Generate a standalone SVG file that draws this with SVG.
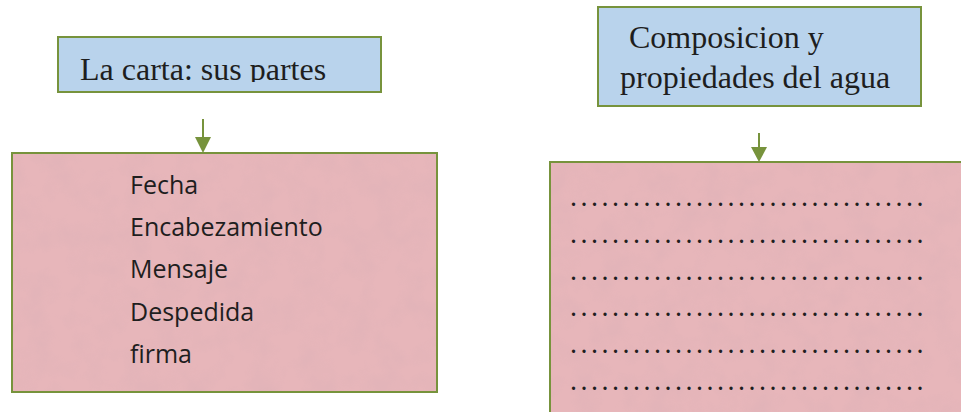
<svg xmlns="http://www.w3.org/2000/svg" width="961" height="412" viewBox="0 0 961 412">
<style>
.title{fill:#b9d3ec;stroke:#77933c;stroke-width:2}
.body{fill:#e7b6ba;stroke:#77933c;stroke-width:2}
.tt{font-family:"Liberation Serif","Times New Roman",serif;font-size:32px;fill:#1e1e1e}
.it{font-family:"Open Sans","Noto Sans",sans-serif;font-size:25px;fill:#1e1e1e}
.dots{font-family:"Liberation Serif",serif;font-size:20px;font-weight:bold;fill:#1e1e1e;letter-spacing:5.5px}
.conn line{stroke:#77933c;stroke-width:2}
.conn polygon{fill:#77933c}
</style>
<defs>
<filter id="tex" x="0" y="0" width="100%" height="100%">
<feTurbulence type="fractalNoise" baseFrequency="0.04" numOctaves="3" seed="4" result="n"/>
<feColorMatrix in="n" type="matrix" values="0 0 0 0 0.6  0 0 0 0 0.4  0 0 0 0 0.45  0 0 0 1.2 -0.45"/>
</filter>
<clipPath id="c1"><rect x="58" y="37" width="323" height="45"/></clipPath>
</defs>
<rect width="961" height="412" fill="#ffffff"/>
<g id="node-carta-title">
<rect class="title" x="58" y="37" width="323" height="55"/>
<text class="tt" x="80" y="80" clip-path="url(#c1)">La carta: sus partes</text>
</g>
<g id="node-agua-title">
<rect class="title" x="598" y="7" width="323" height="99"/>
<text class="tt" x="629" y="48">Composicion y</text>
<text class="tt" x="620" y="88">propiedades del agua</text>
</g>
<g id="node-carta-body">
<rect class="body" x="12" y="153" width="425" height="239"/>
<rect x="13" y="154" width="423" height="237" filter="url(#tex)" opacity="0.3"/>
<text class="it" x="130" y="194">Fecha</text>
<text class="it" x="130" y="236">Encabezamiento</text>
<text class="it" x="130" y="278">Mensaje</text>
<text class="it" x="130" y="321">Despedida</text>
<text class="it" x="130" y="363">firma</text>
</g>
<g id="node-agua-body">
<rect class="body" x="550" y="162" width="420" height="260"/>
<rect x="551" y="163" width="410" height="249" filter="url(#tex)" opacity="0.3"/>
<text class="dots" x="571" y="206">..................................</text>
<text class="dots" x="571" y="243">..................................</text>
<text class="dots" x="571" y="280">..................................</text>
<text class="dots" x="571" y="316">..................................</text>
<text class="dots" x="571" y="353">..................................</text>
<text class="dots" x="571" y="390">..................................</text>
</g>
<g id="connectors" class="conn">
<line x1="203" y1="119" x2="203" y2="138"/>
<polygon points="195,137 211,137 203,153"/>
<line x1="759" y1="133" x2="759" y2="148"/>
<polygon points="751,147 767,147 759,162"/>
</g>
</svg>
